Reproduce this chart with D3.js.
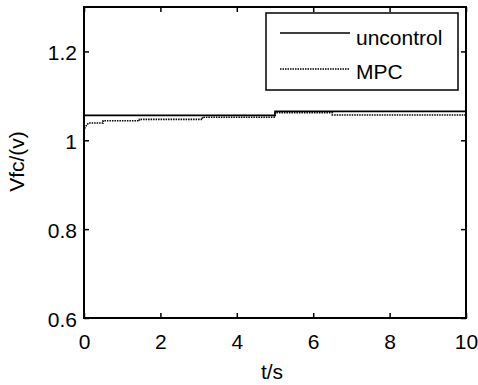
<!DOCTYPE html>
<html><head><meta charset="utf-8">
<script src="https://cdn.jsdelivr.net/npm/d3@7"></script>
<style>body{margin:0;background:#fff}svg{display:block}text{font-family:"Liberation Sans",Arial,sans-serif;fill:#000}</style>
</head><body>
<svg id="c" width="478" height="385"></svg>
<script>
const xTicks = [0, 2, 4, 6, 8, 10];
const yTicks = [0.6, 0.8, 1.0, 1.2];
const seriesNames = ["uncontrol", "MPC"];
const uncontrolT = [0, 5, 5, 10];
const uncontrolV = [1.056, 1.056, 1.065, 1.065];
const mpcT = [0, 0.03, 0.12, 0.5, 0.5, 1.45, 1.45, 3.1, 3.1, 5, 5, 6.5, 6.5, 10];
const mpcV = [1.021, 1.030, 1.039, 1.039, 1.044, 1.044, 1.047, 1.047, 1.052, 1.052, 1.062, 1.062, 1.057, 1.057];

const L = 84, R = 466, T = 7, B = 318;
const svg = d3.select("#c");
const x = d3.scaleLinear().domain([0, 10]).range([L, R]);
const y = d3.scaleLinear().domain([0.6, 1.3]).range([B, T]);
const fs = 21;

const line = d3.line().x(d => x(d[0])).y(d => y(d[1]));
const u = uncontrolT.map((t, i) => [t, uncontrolV[i]]);
const m = mpcT.map((t, i) => [t, mpcV[i]]);

svg.append("path").attr("d", line(u)).attr("fill", "none").attr("stroke", "#000").attr("stroke-width", 1.6);
svg.append("path").attr("d", line(m)).attr("fill", "none").attr("stroke", "#000").attr("stroke-width", 1.6).attr("stroke-dasharray", "1.5,1");

// axes
const xb = svg.append("g").attr("transform", `translate(0,${B})`)
  .call(d3.axisBottom(x).tickValues(xTicks).tickSize(-5).tickPadding(16).tickFormat(d3.format("d")));
const xt = svg.append("g").attr("transform", `translate(0,${T})`)
  .call(d3.axisTop(x).tickValues(xTicks).tickSize(-5).tickFormat(""));
const yl = svg.append("g").attr("transform", `translate(${L},0)`)
  .call(d3.axisLeft(y).tickValues(yTicks).tickSize(-5).tickPadding(7).tickFormat(d => d === 1 ? "1" : d3.format(".1f")(d)));
const yr = svg.append("g").attr("transform", `translate(${R},0)`)
  .call(d3.axisRight(y).tickValues(yTicks).tickSize(-5).tickFormat(""));
[xb, xt, yl, yr].forEach(g => {
  g.selectAll(".domain").remove();
  g.selectAll("line").attr("stroke", "#000").attr("stroke-width", 1.5);
  g.selectAll("text").attr("font-size", fs).attr("font-family", "Liberation Sans, Arial, sans-serif").attr("fill", "#000");
});
yl.selectAll("text").attr("dy", "0.4em");
svg.append("rect").attr("x", L).attr("y", T).attr("width", R - L).attr("height", B - T)
  .attr("fill", "none").attr("stroke", "#000").attr("stroke-width", 2);

// labels
svg.append("text").attr("x", (L + R) / 2 - 3).attr("y", 379).attr("text-anchor", "middle").attr("font-size", fs).text("t/s");
svg.append("text").attr("transform", `translate(24,${(T + B) / 2 - 1}) rotate(-90)`).attr("text-anchor", "middle").attr("font-size", fs).text("Vfc/(v)");

// legend
const lg = svg.append("g");
lg.append("rect").attr("x", 266).attr("y", 13).attr("width", 192).attr("height", 77)
  .attr("fill", "#fff").attr("stroke", "#000").attr("stroke-width", 1.5);
const ly = [33, 69];
const tb = [44.5, 78.5];
seriesNames.forEach((n, i) => {
  lg.append("line").attr("x1", 280).attr("x2", 350).attr("y1", ly[i]).attr("y2", ly[i])
    .attr("stroke", "#000").attr("stroke-width", i ? 1.3 : 1.6).attr("stroke-dasharray", i ? "1.5,1" : null);
  lg.append("text").attr("x", 356).attr("y", tb[i]).attr("font-size", fs).text(n);
});
</script>
</body></html>
